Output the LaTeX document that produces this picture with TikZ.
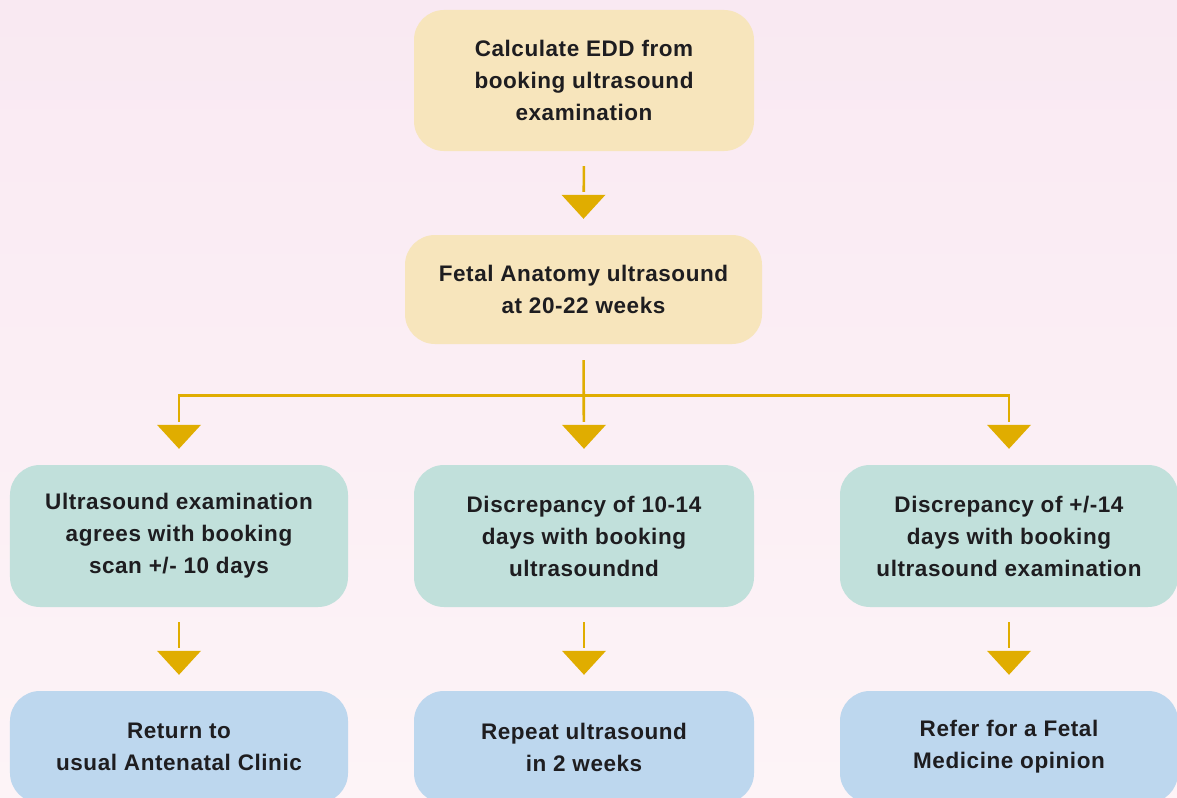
\documentclass[tikz,border=0pt]{standalone}
\usepackage{fontspec}
\setmainfont{Liberation Sans}
\usetikzlibrary{calc}

\definecolor{bgtop}{HTML}{F9E9F2}
\definecolor{bgbot}{HTML}{FDF4F7}
\definecolor{beige}{HTML}{F7E5BC}
\definecolor{teal}{HTML}{C1E0DB}
\definecolor{sky}{HTML}{BDD7EE}
\definecolor{gold}{HTML}{E0AD00}
\definecolor{ink}{HTML}{1E1D20}

\tikzset{
  box/.style={rectangle, rounded corners=30bp, inner sep=0pt, align=center,
    text=ink, font=\fontsize{22.5bp}{32bp}\selectfont\bfseries\addfontfeature{LetterSpace=2.5}},
  startbox/.style={box, fill=beige},
  checkbox/.style={box, fill=teal},
  resultbox/.style={box, fill=sky},
  conn/.style={draw=gold, line width=2.6bp},
}
% gold arrow head whose apex sits 16bp above the given anchor
\newcommand\headabove[1]{%
  \fill[gold] ($(#1)+(0,-16)$) -- ($(#1)+(-22,-40)$) -- ($(#1)+(22,-40)$) -- cycle;}

\begin{document}
\begin{tikzpicture}[x=1bp, y=-1bp]
  \useasboundingbox (0,0) rectangle (1177,798);
  \clip (0,0) rectangle (1177,798);
  \shade[top color=bgtop, bottom color=bgbot] (0,0) rectangle (1177,798);

  % boxes
  \node[startbox, minimum width=340bp, minimum height=141bp] (edd) at (584,80.5)
    {Calculate EDD from\\booking ultrasound\\examination};
  \node[startbox, minimum width=357bp, minimum height=109bp] (anat) at (583.5,289.5)
    {Fetal Anatomy ultrasound\\at 20-22 weeks};

  \node[checkbox, minimum width=338bp, minimum height=142bp] (agree) at (179,536)
    {Ultrasound examination\\agrees with booking\\scan +/- 10 days};
  \node[checkbox, minimum width=340bp, minimum height=142bp] (minor) at (584,536)
    {Discrepancy of 10-14\\days with booking\\ultrasoundnd};
  \node[checkbox, minimum width=338bp, minimum height=142bp] (major) at (1009,536)
    {Discrepancy of +/-14\\days with booking\\ultrasound examination};

  \node[resultbox, minimum width=338bp, minimum height=112bp] (usual) at (179,747)
    {Return to\\usual Antenatal Clinic};
  \node[resultbox, minimum width=340bp, minimum height=112bp] (repeat) at (584,747)
    {Repeat ultrasound\\in 2 weeks};
  \node[resultbox, minimum width=338bp, minimum height=112bp] (refer) at (1009,747)
    {Refer for a Fetal\\Medicine opinion};

  % straight connectors
  \draw[conn, shorten <=15bp, shorten >=43bp] (edd.south) -- (anat.north);
  \headabove{anat.north}
  \draw[conn, shorten <=15bp, shorten >=43bp] (agree.south) -- (usual.north);
  \headabove{usual.north}
  \draw[conn, shorten <=15bp, shorten >=43bp] (minor.south) -- (repeat.north);
  \headabove{repeat.north}
  \draw[conn, shorten <=15bp, shorten >=43bp] (major.south) -- (refer.north);
  \headabove{refer.north}

  % three-way branch
  \coordinate (split) at ($(anat.south)+(0,51)$);
  \draw[conn, shorten <=16bp, shorten >=43bp] (anat.south) -- (minor.north);
  \draw[conn, shorten >=43bp] (split) -| (agree.north);
  \draw[conn, shorten >=43bp] (split) -| (major.north);
  \headabove{agree.north}
  \headabove{minor.north}
  \headabove{major.north}
\end{tikzpicture}
\end{document}
